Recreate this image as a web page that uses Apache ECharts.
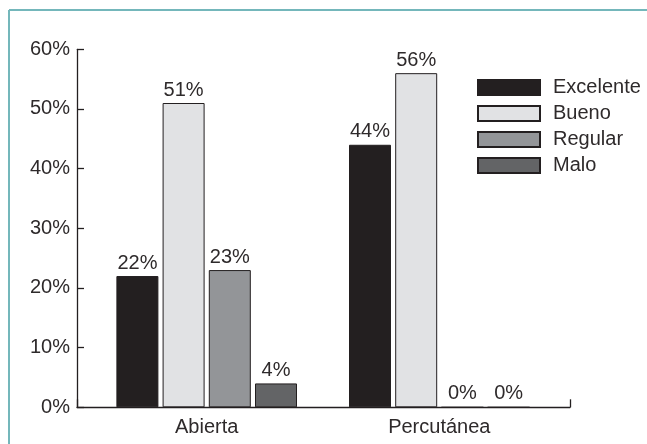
<!DOCTYPE html>
<html>
<head>
<meta charset="utf-8">
<script src="https://cdn.jsdelivr.net/npm/echarts@6/dist/echarts.min.js"></script>
<style>
  html, body { margin: 0; padding: 0; background: #fff; }
  #chart { width: 647px; height: 444px; }
</style>
</head>
<body>
<div id="chart"></div>
<script>
// Categories and series (percent values)
const categories = ['Abierta', 'Percutánea'];
const seriesNames = ['Excelente', 'Bueno', 'Regular', 'Malo'];
const excelente = [22, 44];
const bueno = [51, 56];
const regular = [23, 0];
const malo = [4, 0];
const yTicks = [0, 10, 20, 30, 40, 50, 60];

const seriesValues = [excelente, bueno, regular, malo];
const seriesColors = ['#231f20', '#e1e2e4', '#939598', '#636466'];

const FONT = 'Liberation Sans';
const INK = '#231f20';
const TEXT = '#2e2a2b';
const FS = 20;

const chart = echarts.init(document.getElementById('chart'), null, { renderer: 'canvas' });

const yMin = yTicks[0];
const yMax = yTicks[yTicks.length - 1];
const yStep = yTicks[1] - yTicks[0];

const option = {
  backgroundColor: '#fff',
  animation: false,
  textStyle: { fontFamily: FONT },
  graphic: [
    // teal frame along the top and left edges
    { type: 'line', shape: { x1: 9, y1: 10, x2: 647, y2: 10 }, style: { stroke: '#74b7bb', lineWidth: 2 } },
    { type: 'line', shape: { x1: 9, y1: 10, x2: 9, y2: 444 }, style: { stroke: '#74b7bb', lineWidth: 2 } }
  ],
  legend: {
    orient: 'vertical',
    left: 472,
    top: 72.5,
    itemWidth: 62,
    itemHeight: 15,
    itemGap: 6,
    icon: 'rect',
    data: seriesNames,
    textStyle: { fontFamily: FONT, fontSize: FS, color: TEXT, padding: [0, 0, 0, 8] }
  },
  grid: [
    // axes frame
    { left: 77, right: 77, top: 49.3, bottom: 36.7 },
    // bar area
    { left: 90.4, right: 91.4, top: 49.3, bottom: 36.7 }
  ],
  xAxis: [
    {
      gridIndex: 0, type: 'value', min: 0, max: 1, interval: 1,
      axisLine: { show: true, lineStyle: { color: INK, width: 1.3 } },
      axisTick: { show: true, inside: true, length: 8, lineStyle: { color: INK, width: 1.3 } },
      axisLabel: { show: false },
      splitLine: { show: false }
    },
    {
      gridIndex: 1, type: 'category', data: categories,
      axisLine: { show: false },
      axisTick: { show: false },
      axisLabel: { fontFamily: FONT, fontSize: FS, color: TEXT, margin: 10 }
    }
  ],
  yAxis: [
    {
      gridIndex: 0, type: 'value', min: yMin, max: yMax, interval: yStep,
      axisLine: { show: true, lineStyle: { color: INK, width: 1.3 } },
      axisTick: { show: true, inside: true, length: 7, lineStyle: { color: INK, width: 1.3 } },
      axisLabel: {
        fontFamily: FONT, fontSize: FS, color: TEXT, margin: 7,
        padding: [0, 0, 6, 0],
        formatter: '{value}%'
      },
      splitLine: { show: false }
    },
    {
      gridIndex: 1, type: 'value', min: yMin, max: yMax, interval: yStep,
      show: false
    }
  ],
  series: seriesNames.map((name, i) => ({
    name: name,
    type: 'bar',
    xAxisIndex: 1,
    yAxisIndex: 1,
    data: seriesValues[i],
    barWidth: 42,
    barGap: '10%',
    itemStyle: { color: seriesColors[i], borderColor: INK, borderWidth: 1 },
    label: {
      show: true,
      position: 'top',
      distance: 3,
      fontFamily: FONT,
      fontSize: FS,
      color: TEXT,
      formatter: '{c}%'
    }
  }))
};

chart.setOption(option);
</script>
</body>
</html>
